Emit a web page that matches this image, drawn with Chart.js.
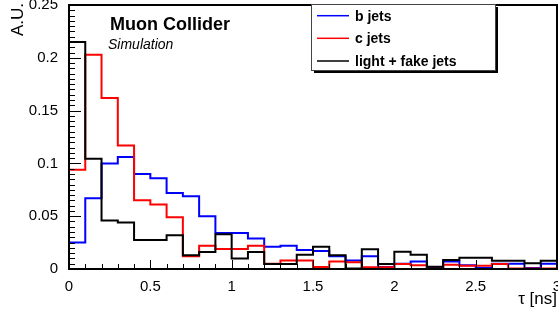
<!DOCTYPE html>
<html>
<head>
<meta charset="utf-8">
<script src="https://cdn.jsdelivr.net/npm/chart.js@4/dist/chart.umd.min.js"></script>
<style>
  html, body { margin: 0; padding: 0; background: #fff; }
  #wrap { width: 558px; height: 310px; }
</style>
</head>
<body>
<div id="wrap"><canvas id="tauChart" width="558" height="310"></canvas></div>
<script>
// bin edges in ns
const binEdges = [0, 0.1, 0.2, 0.3, 0.4, 0.5, 0.6, 0.7, 0.8, 0.9, 1.0, 1.1, 1.2, 1.3, 1.4, 1.5,
                  1.6, 1.7, 1.8, 1.9, 2.0, 2.1, 2.2, 2.3, 2.4, 2.5, 2.6, 2.7, 2.8, 2.9, 3.0];

const bJets = [0.025, 0.067, 0.100, 0.106, 0.090, 0.086, 0.072, 0.069, 0.050, 0.034,
               0.034, 0.029, 0.021, 0.022, 0.018, 0.017, 0.012, 0.008, 0.012, 0.002,
               0.005, 0.007, 0.002, 0.007, 0.0035, 0.001, 0.005, 0.005, 0.001, 0.005];
const cJets = [0.094, 0.203, 0.162, 0.117, 0.065, 0.061, 0.049, 0.012, 0.022, 0.019,
               0.019, 0.022, 0.005, 0.008, 0.008, 0.002, 0.007, 0.0065, 0.0016, 0.0016,
               0.0047, 0.0035, 0.0005, 0.004, 0.003, 0.003, 0.0047, 0.0005, 0.0005, 0.0005];
const lightJets = [0.215, 0.1045, 0.046, 0.044, 0.0275, 0.0275, 0.032, 0.013, 0.016, 0.033,
                   0.010, 0.016, 0.0047, 0.0047, 0.0135, 0.021, 0.013, 0.0005, 0.0186, 0.0047,
                   0.0164, 0.0136, 0.0022, 0.0085, 0.0107, 0.0107, 0.0079, 0.0079, 0.0054, 0.0079];

const seriesLabels = ["b jets", "c jets", "light + fake jets"];
const xTickLabels = ["0", "0.5", "1", "1.5", "2", "2.5", "3"];
const yTickLabels = ["0", "0.05", "0.1", "0.15", "0.2", "0.25"];

// histogram -> step points (left edge of every bin, closed at both ends)
function histPoints(vals) {
    let pts = [{x: binEdges[0], y: 0}];
    vals.forEach((v, i) => pts.push({x: binEdges[i], y: v}));
    pts.push({x: binEdges[binEdges.length - 1], y: vals[vals.length - 1]});
    return pts;
}

function hist(label, vals, color, order) {
    return {
        label: label,
        data: histPoints(vals),
        borderColor: color,
        backgroundColor: color,
        borderWidth: 2,
        pointRadius: 0,
        stepped: true,
        fill: false,
        order: order
    };
}

// frame, inner ticks, texts and legend box
const rootStyle = {
    id: 'rootStyle',
    afterDatasetsDraw(chart) {
        const ctx = chart.ctx;
        const a = chart.chartArea;
        const xs = chart.scales.x, ys = chart.scales.y;
        ctx.save();

        // ticks pointing inwards
        ctx.strokeStyle = '#000';
        ctx.lineWidth = 1;
        ctx.beginPath();
        for (let i = 0; i <= 50; i++) {
            let v = i * 0.005;
            let y = Math.round(ys.getPixelForValue(v)) + 0.5;
            let len = (i % 10 === 0) ? 12 : 6;
            ctx.moveTo(a.left, y);
            ctx.lineTo(a.left + len, y);
        }
        for (let i = 0; i <= 30; i++) {
            let x = Math.round(xs.getPixelForValue(binEdges[i])) + 0.5;
            let len = (i % 5 === 0) ? 9 : 5;
            ctx.moveTo(x, a.bottom);
            ctx.lineTo(x, a.bottom - len);
        }
        ctx.stroke();

        // frame
        ctx.lineWidth = 2;
        ctx.strokeRect(a.left, a.top, a.right - a.left, a.bottom - a.top);

        // axis titles
        ctx.fillStyle = '#000';
        ctx.font = '17px "Liberation Sans", Arial, sans-serif';
        ctx.textAlign = 'right';
        ctx.textBaseline = 'alphabetic';
        ctx.fillText('\u03c4 [ns]', 557, 304);
        ctx.save();
        ctx.translate(23, 3);
        ctx.rotate(-Math.PI / 2);
        ctx.fillText('A.U.', 0, 0);
        ctx.restore();

        // labels in the plot
        ctx.textAlign = 'left';
        ctx.font = 'bold 18px "Liberation Sans", Arial, sans-serif';
        ctx.fillText('Muon Collider', 110, 30);
        ctx.font = 'italic 14px "Liberation Sans", Arial, sans-serif';
        ctx.fillText('Simulation', 108, 48.5);

        // legend box with shadow
        ctx.fillStyle = '#000';
        ctx.fillRect(314, 7, 184, 66);
        ctx.fillStyle = '#fff';
        ctx.fillRect(311, 4, 184.5, 66.5);
        ctx.strokeStyle = '#444';
        ctx.lineWidth = 1;
        ctx.strokeRect(311.5, 4.5, 184, 66);

        const rows = [15.7, 38.3, 61];
        ctx.font = 'bold 14px "Liberation Sans", Arial, sans-serif';
        ctx.textBaseline = 'middle';
        chart.data.datasets.forEach((ds, i) => {
            ctx.strokeStyle = ds.borderColor;
            ctx.lineWidth = 1.5;
            ctx.beginPath();
            ctx.moveTo(317, rows[i]);
            ctx.lineTo(349, rows[i]);
            ctx.stroke();
            ctx.fillStyle = '#000';
            ctx.fillText(ds.label, 355, rows[i] + 1);
        });

        ctx.restore();
    }
};

const ctxT = document.getElementById('tauChart').getContext('2d');

const tauChart = new Chart(ctxT, {
    type: 'line',
    plugins: [rootStyle],
    data: {
        datasets: [
            hist(seriesLabels[0], bJets, '#0000ff', 3),
            hist(seriesLabels[1], cJets, '#ff0000', 2),
            hist(seriesLabels[2], lightJets, '#000000', 1)
        ]
    },
    options: {
        responsive: false,
        animation: false,
        layout: {padding: {left: 0, top: 5, right: 1, bottom: 0}},
        plugins: {
            legend: {display: false},
            tooltip: {enabled: false}
        },
        scales: {
            x: {
                type: 'linear',
                min: 0,
                max: 3,
                grid: {display: false},
                border: {display: false},
                ticks: {
                    stepSize: 0.5,
                    padding: 1,
                    maxRotation: 0,
                    autoSkip: false,
                    color: '#000',
                    font: {family: '"Liberation Sans", Arial, sans-serif', size: 15},
                    callback: (v, i) => xTickLabels[i]
                },
                afterFit: s => { s.height = 41; s.paddingLeft = 0; s.paddingRight = 0; }
            },
            y: {
                type: 'linear',
                min: 0,
                max: 0.25,
                grid: {display: false},
                border: {display: false},
                ticks: {
                    stepSize: 0.05,
                    padding: 3,
                    autoSkip: false,
                    color: '#000',
                    font: {family: '"Liberation Sans", Arial, sans-serif', size: 15},
                    callback: (v, i) => yTickLabels[i]
                },
                afterFit: s => { s.width = 69; s.paddingTop = 0; s.paddingBottom = 0; }
            }
        }
    }
});
</script>
</body>
</html>
